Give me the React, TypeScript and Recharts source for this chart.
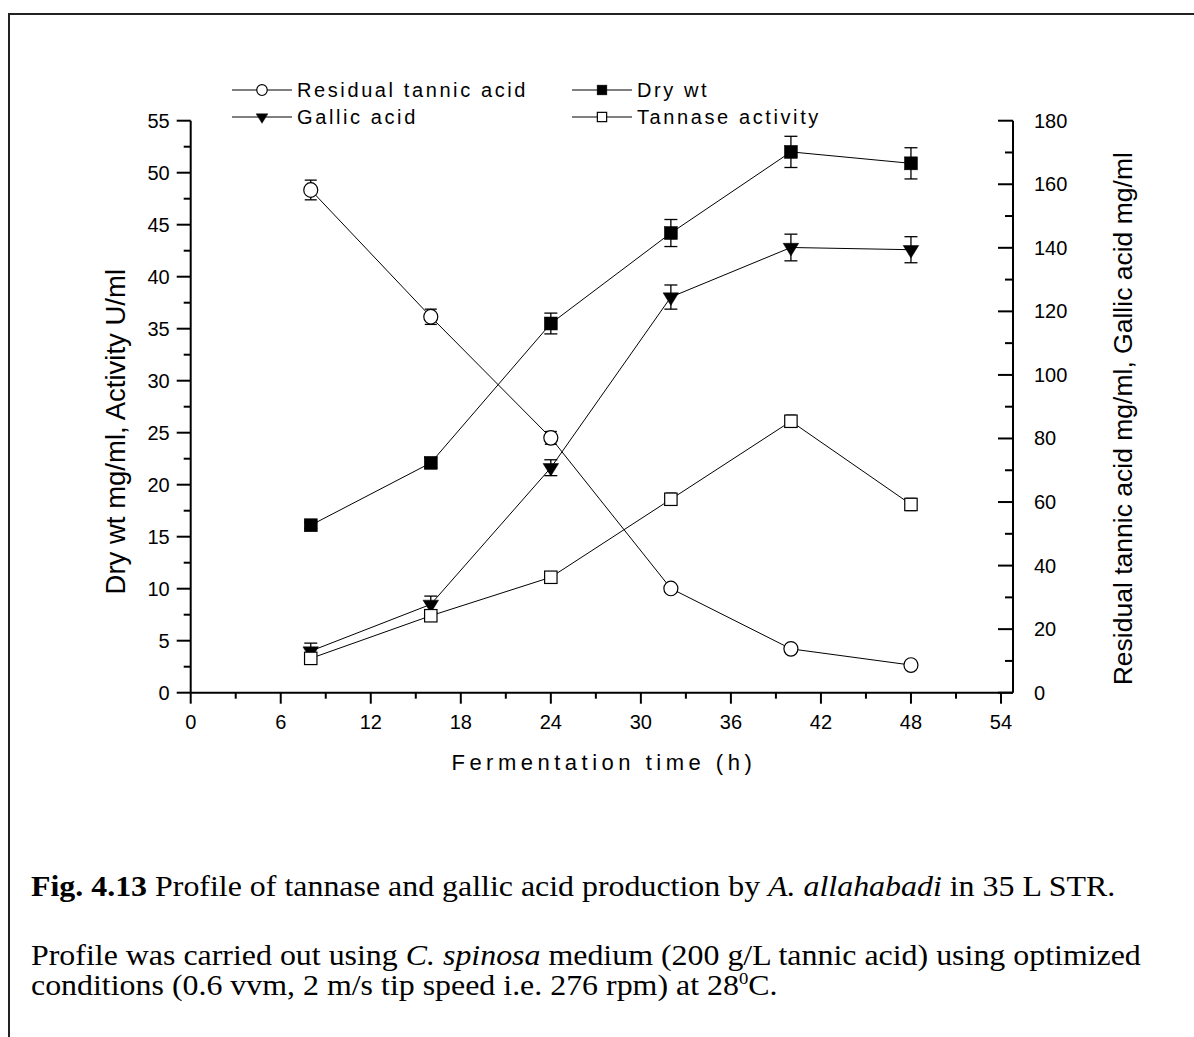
import React from 'react';
import { LineChart, Line, XAxis, YAxis, ErrorBar, Label } from 'recharts';

// ---- data ----
const hours = [8, 16, 24, 32, 40, 48];
const dryWt = [16.1, 22.1, 35.5, 44.2, 52.0, 50.9];
const dryWtErr = [0.3, 0.5, 1.0, 1.3, 1.5, 1.5];
const tannase = [3.3, 7.4, 11.1, 18.6, 26.1, 18.1];
const tannaseErr = [0.4, 0.4, 0.4, 0.6, 0.6, 0.6];
const gallic = [13.1, 27.8, 70.8, 124.5, 140.1, 139.4];
const gallicErr = [2.5, 2.6, 2.5, 3.8, 4.2, 4.1];
const residual = [158.2, 118.3, 80.2, 32.8, 13.8, 8.7];
const residualErr = [3.1, 2.4, 2.0, 0, 0, 0];
const residualErrSmall = [0, 0, 0, 0.8, 0.8, 0.8];

const xTicks = [0, 3, 6, 9, 12, 15, 18, 21, 24, 27, 30, 33, 36, 39, 42, 45, 48, 51, 54];
const leftTicks = [0, 2.5, 5, 7.5, 10, 12.5, 15, 17.5, 20, 22.5, 25, 27.5, 30, 32.5, 35, 37.5, 40, 42.5, 45, 47.5, 50, 52.5, 55];
const rightTicks = [0, 10, 20, 30, 40, 50, 60, 70, 80, 90, 100, 110, 120, 130, 140, 150, 160, 170, 180];

const seriesNames = ['Residual tannic acid', 'Dry wt', 'Gallic acid', 'Tannase activity'];
const seriesShapes = ['circle', 'fsquare', 'triangle', 'osquare'];

const data = hours.map((h, i) => ({
  h,
  dry: dryWt[i],
  dryErr: dryWtErr[i],
  tan: tannase[i],
  tanErr: tannaseErr[i],
  gal: gallic[i],
  galErr: gallicErr[i],
  res: residual[i],
  resErr: residualErr[i],
  resErrSmall: residualErrSmall[i],
}));

const FONT = '"Liberation Sans", Arial, Helvetica, sans-serif';
const SERIF = '"Liberation Serif", "Times New Roman", serif';

function Marker({ shape, cx, cy, s = 1 }: { shape: string; cx: number; cy: number; s?: number }) {
  if (shape === 'circle') {
    return <ellipse cx={cx} cy={cy} rx={7 * s} ry={7.3 * s} fill="#fff" stroke="#000" strokeWidth={1.2} />;
  }
  if (shape === 'fsquare') {
    return <rect x={cx - 6.5 * s} y={cy - 6.5 * s} width={13 * s} height={13 * s} fill="#000" stroke="#000" strokeWidth={0.5} />;
  }
  if (shape === 'osquare') {
    return <rect x={cx - 6.2 * s} y={cy - 6.2 * s} width={12.4 * s} height={12.4 * s} fill="#fff" stroke="#000" strokeWidth={1.2} />;
  }
  return (
    <polygon
      points={`${cx - 7.8 * s},${cy - 4.2 * s} ${cx + 7.8 * s},${cy - 4.2 * s} ${cx},${cy + 8.4 * s}`}
      fill="#000"
      stroke="#000"
      strokeWidth={0.5}
    />
  );
}

const makeDot = (shape: string) => (props: any) => {
  const { cx, cy, index } = props;
  if (cx == null || cy == null) return <g key={`d-${shape}-${index}`} />;
  return (
    <g key={`d-${shape}-${index}`}>
      <Marker shape={shape} cx={cx} cy={cy} />
    </g>
  );
};

function XTick(props: any) {
  const { x, y, payload } = props;
  const major = payload.value % 6 === 0;
  return (
    <g>
      <line x1={x} y1={y} x2={x} y2={y + (major ? 11 : 6)} stroke="#000" strokeWidth={2} />
      {major && (
        <text x={x} y={y + 36} textAnchor="middle" fontSize={20} fontFamily={FONT} fill="#000">
          {payload.value}
        </text>
      )}
    </g>
  );
}

function LeftTick(props: any) {
  const { x, y, payload } = props;
  const major = payload.value % 5 === 0;
  return (
    <g>
      <line x1={x - (major ? 14 : 7)} y1={y} x2={x} y2={y} stroke="#000" strokeWidth={2} />
      {major && (
        <text x={x - 21} y={y + 7} textAnchor="end" fontSize={20} fontFamily={FONT} fill="#000">
          {payload.value}
        </text>
      )}
    </g>
  );
}

function RightTick(props: any) {
  const { x, y, payload } = props;
  const major = payload.value % 20 === 0;
  return (
    <g>
      <line x1={x - (major ? 15 : 8)} y1={y} x2={x} y2={y} stroke="#000" strokeWidth={2} />
      {major && (
        <text x={x + 21} y={y + 7} textAnchor="start" fontSize={20} fontFamily={FONT} fill="#000">
          {payload.value}
        </text>
      )}
    </g>
  );
}

function LegendBox() {
  const colX = [232, 572];
  const rowY = [90, 117];
  return (
    <svg width={1194} height={140} style={{ position: 'absolute', left: 0, top: 0 }}>
      {seriesNames.map((name, i) => {
        const x0 = colX[i % 2];
        const y = rowY[Math.floor(i / 2)];
        return (
          <g key={name}>
            <line x1={x0} y1={y} x2={x0 + 60} y2={y} stroke="#000" strokeWidth={1} />
            <Marker shape={seriesShapes[i]} cx={x0 + 30} cy={y} s={0.75} />
            <text x={x0 + 65} y={y + 7} fontSize={20} fontFamily={FONT} fill="#000" letterSpacing={2.6}>
              {name}
            </text>
          </g>
        );
      })}
    </svg>
  );
}

export default function App() {
  const capStyle: React.CSSProperties = {
    position: 'absolute',
    left: 31,
    fontFamily: SERIF,
    fontSize: 29,
    lineHeight: '30px',
    color: '#000',
    whiteSpace: 'nowrap',
    transform: 'scaleX(1.1)',
    transformOrigin: 'left top',
  };
  return (
    <div style={{ position: 'absolute', left: 0, top: 0, width: 1194, height: 1037, background: '#fff', overflow: 'hidden' }}>
      {/* frame */}
      <div style={{ position: 'absolute', left: 8, top: 13, width: 1200, height: 1040, borderTop: '2px solid #222', borderLeft: '2px solid #222' }} />
      <div style={{ position: 'absolute', left: 0, top: 0 }}>
        <LineChart width={1194} height={800} data={data} margin={{ top: 120.7, right: 0, bottom: 0, left: 0 }}>
          <XAxis
            dataKey="h"
            type="number"
            domain={[0, 54.8]}
            ticks={xTicks}
            interval={0}
            tickSize={0}
            tickMargin={0}
            tickLine={false}
            tick={<XTick />}
            axisLine={{ stroke: '#000', strokeWidth: 2 }}
            height={107.3}
          >
            <Label
              content={(p: any) => {
                const vb = p.viewBox;
                return (
                  <text x={vb.x + vb.width / 2 + 2} y={vb.y + 77} textAnchor="middle" fontSize={22} fontFamily={FONT} letterSpacing={4.5} fill="#000">
                    Fermentation time (h)
                  </text>
                );
              }}
            />
          </XAxis>
          <YAxis
            yAxisId="left"
            type="number"
            domain={[0, 55]}
            ticks={leftTicks}
            interval={0}
            tickSize={0}
            tickMargin={0}
            tickLine={false}
            tick={<LeftTick />}
            axisLine={{ stroke: '#000', strokeWidth: 2 }}
            width={190.7}
          >
            <Label
              content={(p: any) => {
                const vb = p.viewBox;
                const cy = vb.y + vb.height / 2 + 25;
                return (
                  <text x={116} y={cy} transform={`rotate(-90 116 ${cy})`} textAnchor="middle" dominantBaseline="central" fontSize={27.5} fontFamily={FONT} fill="#000">
                    Dry wt mg/ml, Activity U/ml
                  </text>
                );
              }}
            />
          </YAxis>
          <YAxis
            yAxisId="right"
            orientation="right"
            type="number"
            domain={[0, 180]}
            ticks={rightTicks}
            interval={0}
            tickSize={0}
            tickMargin={0}
            tickLine={false}
            tick={<RightTick />}
            axisLine={{ stroke: '#000', strokeWidth: 2 }}
            width={181}
          >
            <Label
              content={(p: any) => {
                const vb = p.viewBox;
                const cy = vb.y + vb.height / 2 + 12;
                return (
                  <text x={1123} y={cy} transform={`rotate(-90 1123 ${cy})`} textAnchor="middle" dominantBaseline="central" fontSize={26.5} fontFamily={FONT} fill="#000">
                    Residual tannic acid mg/ml, Gallic acid mg/ml
                  </text>
                );
              }}
            />
          </YAxis>

          <Line yAxisId="right" dataKey="res" name={seriesNames[0]} stroke="#000" strokeWidth={1} dot={makeDot('circle')} activeDot={false} isAnimationActive={false}>
            <ErrorBar dataKey="resErr" width={6} stroke="#000" strokeWidth={1.3} direction="y" />
          </Line>
          <Line yAxisId="left" dataKey="dry" name={seriesNames[1]} stroke="#000" strokeWidth={1} dot={makeDot('fsquare')} activeDot={false} isAnimationActive={false}>
            <ErrorBar dataKey="dryErr" width={6.5} stroke="#000" strokeWidth={1.3} direction="y" />
          </Line>
          <Line yAxisId="right" dataKey="gal" name={seriesNames[2]} stroke="#000" strokeWidth={1} dot={makeDot('triangle')} activeDot={false} isAnimationActive={false}>
            <ErrorBar dataKey="galErr" width={6.5} stroke="#000" strokeWidth={1.3} direction="y" />
          </Line>
          <Line yAxisId="left" dataKey="tan" name={seriesNames[3]} stroke="#000" strokeWidth={1} dot={makeDot('osquare')} activeDot={false} isAnimationActive={false} />

          {/* small error bars drawn over the open markers */}
          <Line yAxisId="right" dataKey="res" stroke="none" dot={false} activeDot={false} legendType="none" isAnimationActive={false}>
            <ErrorBar dataKey="resErrSmall" width={5} stroke="#000" strokeWidth={1} direction="y" />
          </Line>
          <Line yAxisId="left" dataKey="tan" stroke="none" dot={false} activeDot={false} legendType="none" isAnimationActive={false}>
            <ErrorBar dataKey="tanErr" width={5} stroke="#000" strokeWidth={1} direction="y" />
          </Line>
        </LineChart>
      </div>
      <LegendBox />

      {/* caption */}
      <div style={{ ...capStyle, top: 871 }}>
        <b>Fig. 4.13</b> Profile of tannase and gallic acid production by <i>A. allahabadi</i> in 35 L STR.
      </div>
      <div style={{ ...capStyle, top: 940 }}>
        Profile was carried out using <i>C. spinosa</i> medium (200 g/L tannic acid) using optimized
      </div>
      <div style={{ ...capStyle, top: 970 }}>
        conditions (0.6 vvm, 2 m/s tip speed i.e. 276 rpm) at 28<sup style={{ fontSize: 17, lineHeight: 0, verticalAlign: 'super' }}>0</sup>C.
      </div>
    </div>
  );
}
